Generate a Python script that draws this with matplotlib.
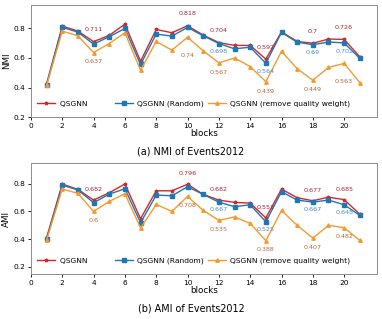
import matplotlib
matplotlib.use("Agg")
from matplotlib import pyplot as plt

blocks = list(range(1, 22))

# NMI of Events2012
nmi_qsgnn = [0.425, 0.816, 0.782, 0.711, 0.753, 0.829, 0.578, 0.793, 0.771, 0.818, 0.755,
             0.704, 0.685, 0.685, 0.592, 0.777, 0.712, 0.7, 0.728, 0.726, 0.608]
nmi_random = [0.42, 0.807, 0.775, 0.694, 0.744, 0.8, 0.556, 0.762, 0.748, 0.807, 0.75,
              0.698, 0.662, 0.673, 0.564, 0.773, 0.707, 0.69, 0.708, 0.702, 0.597]
nmi_noqw = [0.414, 0.782, 0.75, 0.637, 0.698, 0.771, 0.517, 0.712, 0.653, 0.74, 0.649,
            0.567, 0.6, 0.542, 0.439, 0.645, 0.528, 0.449, 0.536, 0.563, 0.433]

# AMI of Events2012
ami_qsgnn = [0.41, 0.798, 0.759, 0.682, 0.735, 0.798, 0.547, 0.749, 0.749, 0.796, 0.723,
             0.682, 0.665, 0.66, 0.553, 0.761, 0.699, 0.677, 0.703, 0.685, 0.58]
ami_random = [0.40, 0.79, 0.755, 0.663, 0.725, 0.764, 0.518, 0.718, 0.713, 0.778, 0.723,
              0.667, 0.634, 0.648, 0.525, 0.742, 0.682, 0.667, 0.682, 0.648, 0.571]
ami_noqw = [0.393, 0.762, 0.73, 0.6, 0.672, 0.728, 0.48, 0.65, 0.6, 0.708, 0.607,
            0.535, 0.56, 0.513, 0.388, 0.607, 0.499, 0.407, 0.499, 0.482, 0.39]

labels = ['QSGNN' + ' ' * 10, 'QSGNN (Random)', 'QSGNN (remove quality weight)']
titles = ['(a) NMI of Events2012', '(b) AMI of Events2012']
ylabels = ['NMI', 'AMI']

# which blocks get a value printed next to them
red_marked = [4, 10, 12, 15, 18, 20]
blue_marked = [12, 15, 18, 20]
orange_marked = [4, 10, 12, 15, 18, 20]

line_colors = ['#d62728', '#1f77b4', '#f59a30']
text_colors = ['#b0222a', '#4a8cc8', '#b8673a']
markers = ['*', 's', '^']

fig = plt.figure(figsize=(3.82, 3.19), dpi=100)
ax1 = fig.add_axes([0.081, 0.633, 0.906, 0.351])
ax2 = fig.add_axes([0.081, 0.141, 0.906, 0.348])


def draw(ax, series, ylim, offsets, ylabel, title, title_y):
    handles = []
    for s, lab, c, m in zip(series, labels, line_colors, markers):
        h, = ax.plot(blocks, s, color=c, marker=m, markersize=2.5, lw=1, label=lab)
        handles.append(h)
    for k, (marked, s) in enumerate(zip([red_marked, blue_marked, orange_marked], series)):
        for b in marked:
            v = s[b - 1]
            off = offsets[k]
            if isinstance(off, dict):
                off = off.get(b, off['default'])
            ax.text(b, v + off, '{:g}'.format(v), color=text_colors[k], fontsize=4.6,
                    ha='center', va='center')
    ax.set_xlim(0, 22.1)
    ax.set_ylim(*ylim)
    ax.set_xticks(range(0, 21, 2))
    ax.set_yticks([0.2, 0.4, 0.6, 0.8])
    ax.tick_params(labelsize=5.3, length=2.5, width=0.6, pad=1.5)
    ax.set_xlabel('blocks', fontsize=6.3, labelpad=0.5)
    ax.set_ylabel(ylabel, fontsize=6.3, labelpad=1.5)
    for sp in ax.spines.values():
        sp.set_color('0.55')
        sp.set_linewidth(0.7)
    ax.legend(handles=handles, ncol=3, frameon=False, fontsize=5.4, loc='center',
              bbox_to_anchor=(0.47, 0.12), handlelength=2.4, handletextpad=0.6,
              columnspacing=0.5)
    fig.text(0.5, title_y, title, fontsize=6.9, ha='center', va='center')


draw(ax1, [nmi_qsgnn, nmi_random, nmi_noqw], (0.2, 0.958),
     [0.08, -0.055, {'default': -0.063, 10: -0.12, 20: -0.12}],
     ylabels[0], titles[0], 0.524)
draw(ax2, [ami_qsgnn, ami_random, ami_noqw], (0.147, 0.95),
     [0.075, -0.056, -0.065],
     ylabels[1], titles[1], 0.034)

fig.savefig('out.png', dpi=100)
